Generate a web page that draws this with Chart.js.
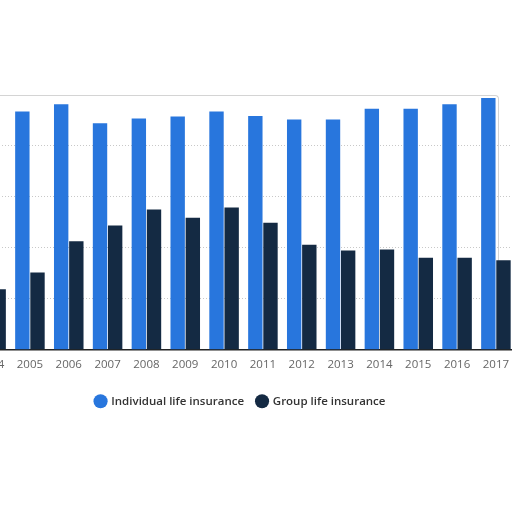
<!DOCTYPE html>
<html>
<head>
<meta charset="utf-8">
<script src="https://cdn.jsdelivr.net/npm/chart.js@4"></script>
<style>
html,body{margin:0;padding:0;background:#fff;width:512px;height:512px;overflow:hidden;}
#card{position:absolute;left:-6px;top:95px;width:504px;height:170px;border-top:1px solid #d4d4d4;border-right:1px solid #d4d4d4;border-top-right-radius:4px;}
#wrap{position:absolute;left:-30px;top:94px;width:547px;height:323px;}
</style>
</head>
<body>
<div id="card"></div>
<div id="wrap"><canvas id="c"></canvas></div>
<script>
const years = ["2004","2005","2006","2007","2008","2009","2010","2011","2012","2013","2014","2015","2016","2017"];
const individual = [46.0,46.6,48.0,44.3,45.2,45.6,46.6,45.7,45.0,45.0,47.1,47.1,48.0,49.2];
const group = [11.8,15.1,21.2,24.3,27.4,25.8,27.8,24.8,20.5,19.4,19.6,18.0,18.0,17.5];
const yTicks = [0,10,20,30,40,50];

const shiftLegend = {
  id: 'shiftLegend',
  afterLayout(chart) {
    const lg = chart.legend;
    if (!lg) return;
    lg.left -= 3; lg.right -= 3;
    lg.adjustHitBoxes();
  }
};

new Chart(document.getElementById('c'), {
  type: 'bar',
  data: {
    labels: years,
    datasets: [
      {label: 'Individual life insurance', data: individual, backgroundColor: '#2876dd', categoryPercentage: 0.78, barPercentage: 0.95},
      {label: 'Group life insurance', data: group, backgroundColor: '#142a43', categoryPercentage: 0.78, barPercentage: 0.95}
    ]
  },
  plugins: [shiftLegend],
  options: {
    responsive: true,
    maintainAspectRatio: false,
    animation: false,
    layout: {padding: 0},
    plugins: {
      tooltip: {enabled: false},
      legend: {
        position: 'bottom',
        labels: {
          usePointStyle: true, pointStyle: 'circle', boxWidth: 10, boxHeight: 10,
          color: '#333', padding: 13,
          font: {family: 'Open Sans', size: 11.5, weight: '600'}
        }
      }
    },
    scales: {
      x: {
        offset: true,
        grid: {display: false, drawTicks: false},
        border: {display: true, color: '#222', width: 1.5},
        ticks: {color: '#666', padding: 8, maxRotation: 0, autoSkip: false, font: {family: 'Open Sans', size: 11.5}},
        afterFit: (s) => { s.height += 3; }
      },
      y: {
        min: yTicks[0], max: yTicks[yTicks.length-1],
        afterBuildTicks: (s) => { s.ticks = yTicks.map(v => ({value: v})); },
        ticks: {display: false},
        border: {display: false, dash: [1,2]},
        grid: {drawTicks: false, tickLength: 0, color: (ctx) => (ctx.tick && (ctx.tick.value === 0 || ctx.tick.value === 50)) ? 'rgba(0,0,0,0)' : '#c8c8c8', lineWidth: 1},
        afterFit: (s) => { s.width = 0; }
      }
    }
  }
});
</script>
</body>
</html>
